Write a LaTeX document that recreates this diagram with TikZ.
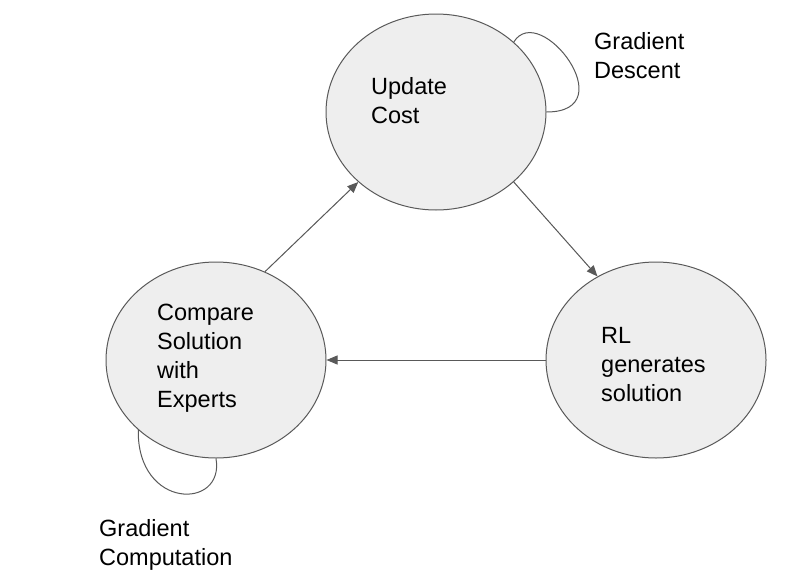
\documentclass[tikz,border=0pt]{standalone}
\usepackage{fontspec}
\setmainfont{Liberation Sans}
\usetikzlibrary{shapes.geometric,arrows.meta}
\definecolor{nodefill}{HTML}{EEEEEE}
\definecolor{edge}{HTML}{595959}
\begin{document}
\begin{tikzpicture}[x=1pt,y=1pt,
  state/.style={shape=ellipse,draw=edge,fill=nodefill,line width=1pt,
    minimum width=220pt,minimum height=196pt,inner sep=0pt},
  lbl/.style={align=left,inner sep=0pt,anchor=base west,
    font=\fontsize{23.5pt}{28.7pt}\selectfont},
  conn/.style={draw=edge,line width=1pt},
  arr/.style={conn,-{Triangle[length=11pt,width=9pt]},fill=edge}]
\useasboundingbox (0,0) rectangle (799,-573);
\node[state] (uc) at (436,-112) {};
\node[state] (ce) at (216,-360) {};
\node[state] (rl) at (656,-360) {};
\node[lbl] (uct) at (371,-123) {Update\\Cost};
\node[lbl] (cet) at (157,-407) {Compare\\Solution\\with\\Experts};
\node[lbl] (rlt) at (601,-401) {RL\\generates\\solution};
\node[lbl] (gd) at (594,-78) {Gradient\\Descent};
\node[lbl] (gc) at (99,-565) {Gradient\\Computation};
\draw[arr] (ce.61) -- (uc.222);
\draw[arr] (uc.318) -- (rl.125);
\draw[arr] (rl.west) -- (ce.east);
\draw[conn] (uc.42) .. controls (540,0) and (625,-112) .. (uc.east);
\draw[conn] (ce.222) .. controls (137,-510) and (225,-510) .. (ce.south);
\end{tikzpicture}
\end{document}
